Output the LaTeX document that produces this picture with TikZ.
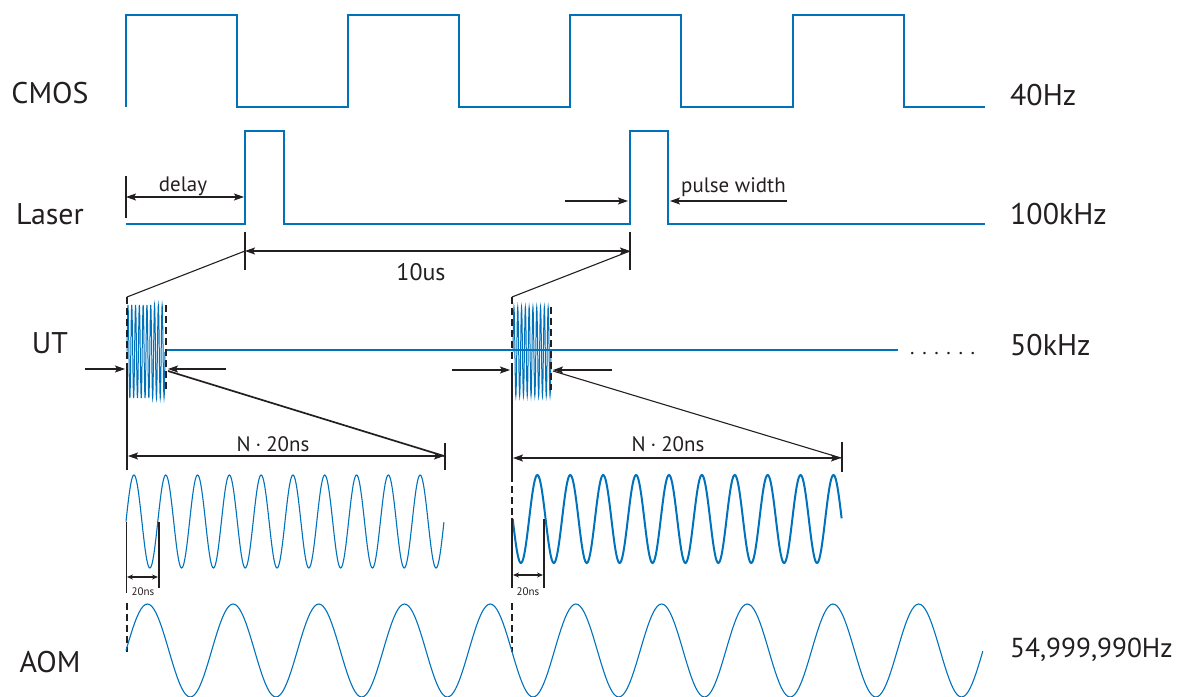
\documentclass[tikz,border=0pt]{standalone}
\usepackage{fontspec}
\setmainfont{PT Sans}
\usetikzlibrary{arrows.meta}
\definecolor{sigblue}{RGB}{0,114,188}
\definecolor{ink}{RGB}{35,31,32}
\tikzset{
  sig/.style={draw=sigblue, line width=1.1bp},
  dim/.style={draw=ink, line width=1.1bp},
  tipA/.tip={Stealth[length=10bp,width=7bp,inset=2bp]},
  dimarrow/.style={dim, -tipA},
  dimboth/.style={dim, tipA-tipA},
  dashv/.style={dim, dash pattern=on 7bp off 4bp},
  lbl/.style={font=\fontsize{30}{36}\selectfont, text=ink, inner sep=0pt, text depth=0pt},
  sm/.style={font=\fontsize{21}{25}\selectfont, text=ink, inner sep=0pt},
  tinylbl/.style={font=\fontsize{11}{13}\selectfont, text=ink, inner sep=0pt},
}
\begin{document}
\begin{tikzpicture}[x=1bp,y=-1bp]
\useasboundingbox (0,0) rectangle (1184,697);
% ---- row labels ----
\node[lbl] (cmos) at (50,93) {CMOS};
\node[lbl] (laser) at (50,214) {Laser};
\node[lbl] (ut) at (50,343) {UT};
\node[lbl] (aom) at (50,662) {AOM};
\node[lbl,anchor=west] (f1) at (1010,95) {40Hz};
\node[lbl,anchor=west] (f2) at (1010,214) {100kHz};
\node[lbl,anchor=west] (f3) at (1010,345) {50kHz};
\node[lbl,anchor=west,font=\fontsize{27.5}{33}\selectfont] (f4) at (1010,648) {54,999,990Hz};
% ---- CMOS ----
\draw[sig] (126,107) -- (126,15) -- (237,15) -- (237,107) -- (348,107) -- (348,15) -- (459,15) -- (459,107)
  -- (570,107) -- (570,15) -- (681,15) -- (681,107) -- (793,107) -- (793,15) -- (904,15) -- (904,107) -- (985,107);
% ---- Laser ----
\draw[sig] (126,224) -- (245,224) -- (245,131) -- (284,131) -- (284,224) -- (630,224) -- (630,131) -- (668,131) -- (668,224) -- (985,224);
% delay
\coordinate (d0) at (126,197); \coordinate (d1) at (244,197);
\draw[dim] (126,176) -- (126,218);
\draw[dimboth] (d0) -- (d1);
\node[sm,anchor=base] (delay) at (183,192) {delay};
% pulse width
\coordinate (pa) at (565,201); \coordinate (pb) at (628,201);
\coordinate (pc) at (787,201); \coordinate (pd) at (670,201);
\draw[dimarrow] (pa) -- (pb);
\draw[dimarrow] (pc) -- (pd);
\node[sm,anchor=base west] (pw) at (681,193) {pulse width};
% 10us
\coordinate (t0) at (245,251); \coordinate (t1) at (630,251);
\draw[dim] (245,232) -- (245,270);
\draw[dim] (630,232) -- (630,270);
\draw[dimboth] (t0) -- (t1);
\node[sm,anchor=base,font=\fontsize{24}{28}\selectfont] (tus) at (421,280) {10us};
\coordinate (u0) at (127,297); \coordinate (u1) at (512,297);
\draw[dim] (u0) -- (t0);
\draw[dim] (u1) -- (t1);
% ---- UT ----
\draw[sig] (165,350) -- (898,350);
\draw[sig,line width=1bp] plot[domain=0:10,samples=241] ({127+3.8*\x},{351.5-46.5*sin(360*\x)});
\draw[sig,line width=1bp] plot[domain=0:10,samples=241] ({513+3.8*\x},{351.5-44.5*sin(360*\x)});
\node[sm,anchor=base west] (dots) at (910,354) {.\hspace{7.6bp}.\hspace{7.6bp}.\hspace{7.6bp}.\hspace{7.6bp}.\hspace{7.6bp}.};
% burst 1 markers
\draw[dashv] (127,297) -- (127,367);
\draw[dashv] (166,305) -- (166,392);
\draw[dim] (127,367) -- (127,470);
\coordinate (a1) at (85,369); \coordinate (a2) at (125,369);
\coordinate (a3) at (226,369); \coordinate (a4) at (168,369);
\draw[dimarrow] (a1) -- (a2);
\draw[dimarrow] (a3) -- (a4);
\coordinate (n0) at (128,456); \coordinate (n1) at (444,456);
\draw[dim,line width=1.7bp] (168,371) -- (n1);
\draw[dimboth] (n0) -- (n1);
\draw[dim] (445,443) -- (445,470);
\node[sm,anchor=base] (n20a) at (273,451) {N\hspace{5bp}·\hspace{5bp}20ns};
% burst 2 markers
\draw[dashv] (512,297) -- (512,367);
\draw[dashv] (551,307) -- (551,390);
\draw[dim] (512,367) -- (512,475);
\coordinate (b1) at (452,370); \coordinate (b2) at (510,370);
\coordinate (b3) at (612,370); \coordinate (b4) at (553,370);
\draw[dimarrow] (b1) -- (b2);
\draw[dimarrow] (b3) -- (b4);
\coordinate (m0) at (513,458); \coordinate (m1) at (841,458);
\draw[dim] (553,371) -- (m1);
\draw[dimboth] (m0) -- (m1);
\draw[dim] (842,442) -- (842,472);
\node[sm,anchor=base] (n20b) at (668,451) {N\hspace{5bp}·\hspace{5bp}20ns};
% ---- 50 MHz sines ----
\draw[sig] plot[domain=0:10,samples=401] ({126+31.8*\x},{521.5-46.5*sin(360*\x)});
\draw[sig,line width=2bp] plot[domain=0:10,samples=401] ({512.7+32.9*\x},{519+44*sin(360*\x)});
% 20ns markers 1
\draw[dim,line width=1.5bp] (126.5,522) -- (126.5,593);
\draw[dim] (159,522) -- (159,588);
\draw[dim,{Stealth[length=6bp,width=5bp]}-{Stealth[length=6bp,width=5bp]}] (127,577) -- (158,577);
\node[tinylbl] (ns1) at (143,592) {20ns};
\draw[dashv] (127,603) -- (127,652);
% 20ns markers 2
\draw[dashv] (512,475) -- (512,518);
\draw[dim,line width=1.5bp] (512,518) -- (512,588);
\draw[dim] (544,519) -- (544,588);
\draw[dim,{Stealth[length=6bp,width=5bp]}-{Stealth[length=6bp,width=5bp]}] (513,575) -- (543,575);
\node[tinylbl] (ns2) at (528,592) {20ns};
\draw[dashv] (512,603) -- (512,652);
% ---- AOM ----
\draw[sig] plot[domain=0:10,samples=401] ({126+85.7*\x},{650.5-46.5*sin(360*\x)});
\end{tikzpicture}
\end{document}
